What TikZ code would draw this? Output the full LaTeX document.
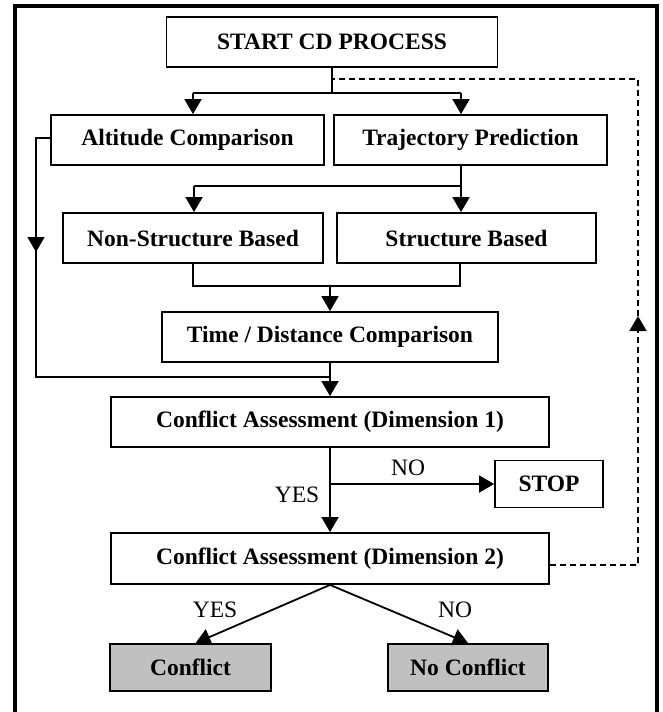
\documentclass[tikz,border=0pt]{standalone}
\usepackage{fontspec}
\setmainfont{Liberation Serif}
\usetikzlibrary{arrows.meta}
\definecolor{boxgray}{RGB}{192,192,192}

\begin{document}
\begin{tikzpicture}[x=1pt,y=-1pt,
    every node/.style={font=\fontsize{23.5}{28}\selectfont},
    proc/.style={draw,line width=1.8pt,inner sep=0pt,minimum height=50pt,font=\fontsize{23.5}{28}\selectfont\bfseries},
    result/.style={proc,fill=boxgray,minimum height=47pt},
    link/.style={line width=1.8pt},
    arr/.style={link,-{Triangle[length=15pt,width=17pt]}},
    loopback/.style={line width=1.8pt,dash pattern=on 6pt off 4pt}]
    \useasboundingbox (0,0) rectangle (663,712);
    \draw[line width=4pt] (15,6) rectangle (657,740);
    % boxes
    \node[proc,minimum width=331pt] (start) at (332,42) {START CD PROCESS};
    \node[proc,minimum width=273pt] (alt) at (187.5,140) {Altitude Comparison};
    \node[proc,minimum width=273pt] (traj) at (470.5,140) {Trajectory Prediction};
    \node[proc,minimum width=260pt] (nsb) at (193,238) {Non-Structure Based};
    \node[proc,minimum width=259pt] (sb) at (466.5,238) {Structure Based};
    \node[proc,minimum width=336pt] (tdc) at (330,337) {Time / Distance Comparison};
    \node[proc,minimum width=438pt] (ca1) at (330,422) {Conflict Assessment (Dimension 1)};
    \node[proc,minimum width=108pt,minimum height=47pt] (stop) at (549,484) {STOP};
    \node[proc,minimum width=438pt,minimum height=51pt] (ca2) at (330,558.5) {Conflict Assessment (Dimension 2)};
    \node[result,minimum width=161pt] (conf) at (190.5,667.5) {Conflict};
    \node[result,minimum width=160pt] (noconf) at (468,667.5) {No Conflict};
    % first split
    \coordinate (fork1) at (332,93);
    \coordinate (fork1l) at (193,93);
    \coordinate (fork1r) at (461,93);
    \draw[link] (start.south) -- (fork1);
    \draw[link] (fork1l) -- (fork1r);
    \draw[arr] (fork1l) -- (fork1l |- alt.north);
    \draw[arr] (fork1r) -- (fork1r |- traj.north);
    % trajectory split
    \coordinate (fork2l) at (194,186);
    \coordinate (fork2r) at (461,186);
    \draw[link] (fork2r |- traj.south) -- (fork2r) -- (fork2l);
    \draw[arr] (fork2l) -- (fork2l |- nsb.north);
    \draw[arr] (fork2r) -- (fork2r |- sb.north);
    % join
    \coordinate (join1l) at (193,286);
    \coordinate (join1r) at (460,286);
    \coordinate (join1) at (330,286);
    \draw[link] (join1l |- nsb.south) -- (join1l) -- (join1r) -- (join1r |- sb.south);
    \draw[arr] (join1) -- (tdc.north);
    % altitude bypass
    \coordinate (bypass) at (36,138);
    \coordinate (bymid) at (36,252);
    \coordinate (join2) at (330,377);
    \draw[link] (alt.west |- bypass) -- (bypass) -- (bypass |- join2) -- (join2);
    \draw[arr] (bypass) -- (bymid);
    \draw[link] (tdc.south) -- (join2);
    \draw[arr] (join2) -- (ca1.north);
    % first assessment
    \coordinate (nobranch) at (330,484);
    \draw[arr] (ca1.south) -- (ca2.north);
    \draw[arr] (nobranch) -- (stop.west);
    \node (no1) at (408,468) {NO};
    \node (yes1) at (297,495) {YES};
    % loop back
    \coordinate (loopse) at (638,565);
    \coordinate (loopmid) at (638,316);
    \coordinate (loopne) at (638,79);
    \draw[loopback,-{Triangle[length=15pt,width=17pt]}] (ca2.east |- loopse) -- (loopse) -- (loopmid);
    \draw[loopback] (loopmid) -- (loopne) -- (loopne -| start.south);
    % second assessment
    \draw[arr] (ca2.south) -- ([xshift=5pt]conf.north);
    \draw[arr] (ca2.south) -- (noconf.north);
    \node (yes2) at (215,610) {YES};
    \node (no2) at (455,610) {NO};
\end{tikzpicture}
\end{document}
